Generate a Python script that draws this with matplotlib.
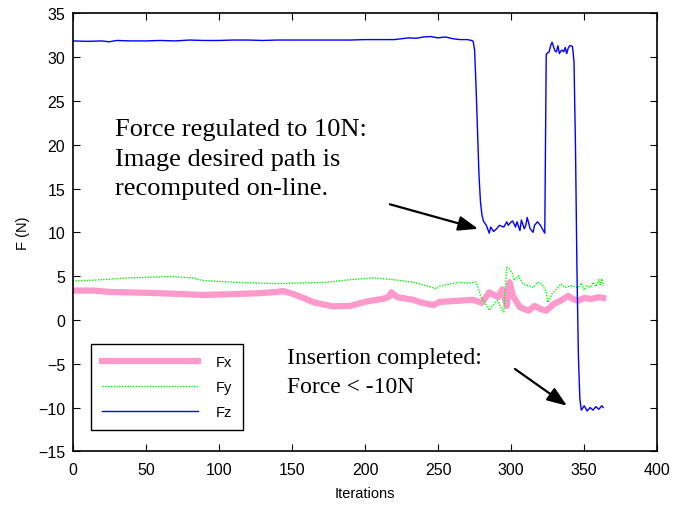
import matplotlib
matplotlib.use("Agg")
import matplotlib.pyplot as plt

# force components logged during the insertion run
fx_iter = [0, 14, 25, 37, 50, 60, 75, 89, 100, 110, 128, 140, 144, 151, 158, 165, 172, 178,
           190, 201, 212, 216, 218, 222, 233, 238, 245, 247, 251, 265, 274, 280, 285, 291,
           294, 297, 299, 301, 306, 312, 316, 320, 324, 329, 334, 339, 342, 346, 350, 355,
           360, 363]
fx = [3.35, 3.35, 3.2, 3.15, 3.1, 3.05, 2.95, 2.85, 2.9, 2.95, 3.05, 3.2, 3.3, 2.95, 2.5,
      2.0, 1.75, 1.55, 1.6, 2.1, 2.4, 2.6, 3.15, 2.6, 2.3, 2.0, 1.75, 1.7, 2.05, 2.2, 2.3,
      1.95, 3.15, 2.6, 3.5, 1.6, 4.3, 2.8, 1.45, 1.05, 1.6, 1.25, 1.05, 1.8, 2.2, 2.75, 2.4,
      2.2, 2.5, 2.4, 2.6, 2.5]

fy_iter = [0, 10, 20, 37, 50, 67, 82, 89, 100, 110, 128, 140, 151, 165, 174, 190, 206, 219,
           233, 242, 249, 251, 258, 265, 270, 276, 280, 282, 285, 289, 291, 293, 295, 297,
           299, 301, 302, 305, 308, 312, 315, 318, 321, 324, 325, 328, 331, 334, 337, 341,
           346, 348, 350, 352, 354, 356, 358, 360, 361, 362, 363]
fy = [4.45, 4.5, 4.6, 4.8, 4.85, 4.95, 4.8, 4.5, 4.4, 4.3, 4.2, 4.15, 4.2, 4.25, 4.3, 4.6,
      4.8, 4.6, 4.3, 3.9, 3.55, 3.85, 4.1, 4.3, 4.2, 4.3, 2.4, 2.0, 1.1, 2.0, 2.2, 1.4, 0.9,
      6.0, 5.8, 5.25, 4.5, 5.05, 4.1, 3.9, 3.7, 4.3, 4.1, 3.2, 2.0, 3.0, 3.5, 4.1, 3.7, 3.9,
      3.7, 4.2, 3.4, 3.9, 3.7, 4.3, 3.8, 4.6, 4.0, 4.7, 3.9]

fz_iter = [0, 10, 20, 25, 30, 40, 50, 60, 70, 80, 90, 100, 110, 120, 130, 140, 150, 160,
           170, 180, 190, 200, 210, 220, 225, 230, 235, 240, 245, 250, 255, 260, 265, 270,
           273, 274, 275, 276, 277, 278, 279, 280, 281, 283, 285, 286, 288, 290, 292, 295,
           297, 298, 300, 301, 303, 304, 306, 307, 309, 310, 311, 313, 315, 316, 318, 320,
           322, 323, 324, 325, 326, 327, 328, 329, 330, 331, 332, 333, 334, 335, 336, 337,
           338, 339, 340, 341, 342, 343, 344, 345, 346, 347, 348, 350, 352, 354, 356, 358,
           360, 362, 363]
fz = [31.85, 31.8, 31.85, 31.75, 31.9, 31.85, 31.85, 31.9, 31.85, 31.95, 31.9, 31.9, 31.95,
      31.95, 31.9, 31.95, 31.95, 31.95, 31.95, 31.95, 31.95, 32.0, 32.0, 32.0, 32.1, 32.2,
      32.15, 32.3, 32.35, 32.2, 32.3, 32.1, 32.0, 32.0, 31.9, 31.8, 30.8, 26.5, 21.5, 16.5,
      13.5, 12.0, 11.3, 10.8, 9.9, 10.6, 10.1, 10.4, 10.8, 10.6, 11.2, 10.8, 11.2, 11.3,
      10.6, 11.2, 10.2, 11.4, 10.4, 10.8, 11.7, 10.4, 10.0, 10.8, 11.2, 10.8, 10.2, 9.9,
      30.3, 30.5, 30.6, 31.3, 31.7, 31.2, 30.7, 30.6, 31.3, 30.4, 30.7, 30.8, 30.6, 31.1,
      30.4, 31.0, 31.3, 31.3, 31.2, 29.5, 20.0, 6.0, -4.0, -9.0, -10.3, -9.8, -10.4, -10.0,
      -10.3, -9.9, -10.2, -9.8, -10.0]

plt.rcParams['font.family'] = ['Liberation Sans', 'DejaVu Sans']

fig = plt.figure(figsize=(6.77, 5.06), dpi=100)
ax = fig.add_axes([0.1074, 0.1061, 0.8635, 0.8656])

ax.plot(fx_iter, fx, color='#ff99cc', lw=4.5, label='Fx')
ax.plot(fy_iter, fy, color='#00ff00', lw=1.0, ls=(0, (1, 1)), label='Fy')
ax.plot(fz_iter, fz, color='#0000ff', lw=1.0, label='Fz')

ax.set_xlim(0, 400)
ax.set_ylim(-15, 35)
ax.set_xticks(range(0, 401, 50))
ax.set_yticks(range(-15, 36, 5))
ax.tick_params(direction='in', length=5, width=0.8, top=True, right=True, labelsize=11.5)
ax.tick_params(axis='x', pad=8)
ax.tick_params(axis='y', pad=5.5)
for s in ax.spines.values():
    s.set_linewidth(1.2)
ax.set_xlabel('Iterations', fontsize=10.5, labelpad=6)
ax.set_ylabel('F (N)', fontsize=10.5, labelpad=6)

leg = ax.legend(loc='lower left', bbox_to_anchor=(0.031, 0.049), borderaxespad=0,
                handlelength=6.6, fontsize=10.5, fancybox=False, framealpha=1,
                edgecolor='black', labelspacing=0.75, borderpad=0.75, handletextpad=1.2)
leg.get_frame().set_linewidth(1.0)

# annotations in serif, arrows with filled heads
serif = ['Liberation Serif', 'DejaVu Serif']
ax.text(29, 18.4, 'Force regulated to 10N:\nImage desired path is\nrecomputed on-line.',
        family=serif, fontsize=19, ha='left', va='center', linespacing=1.45)
ax.annotate('', xy=(277.4, 10.4), xytext=(217, 13.2),
            arrowprops=dict(arrowstyle='-|>,head_length=1.2,head_width=0.45',
                            color='black', lw=1.6, shrinkA=0, shrinkB=0))

ax.text(146.7, -5.9, 'Insertion completed:\nForce < -10N',
        family=serif, fontsize=17, ha='left', va='center', linespacing=1.5)
ax.annotate('', xy=(338.2, -9.8), xytext=(302.6, -5.6),
            arrowprops=dict(arrowstyle='-|>,head_length=1.2,head_width=0.45',
                            color='black', lw=1.6, shrinkA=0, shrinkB=0))

fig.savefig('out.png', dpi=100)
